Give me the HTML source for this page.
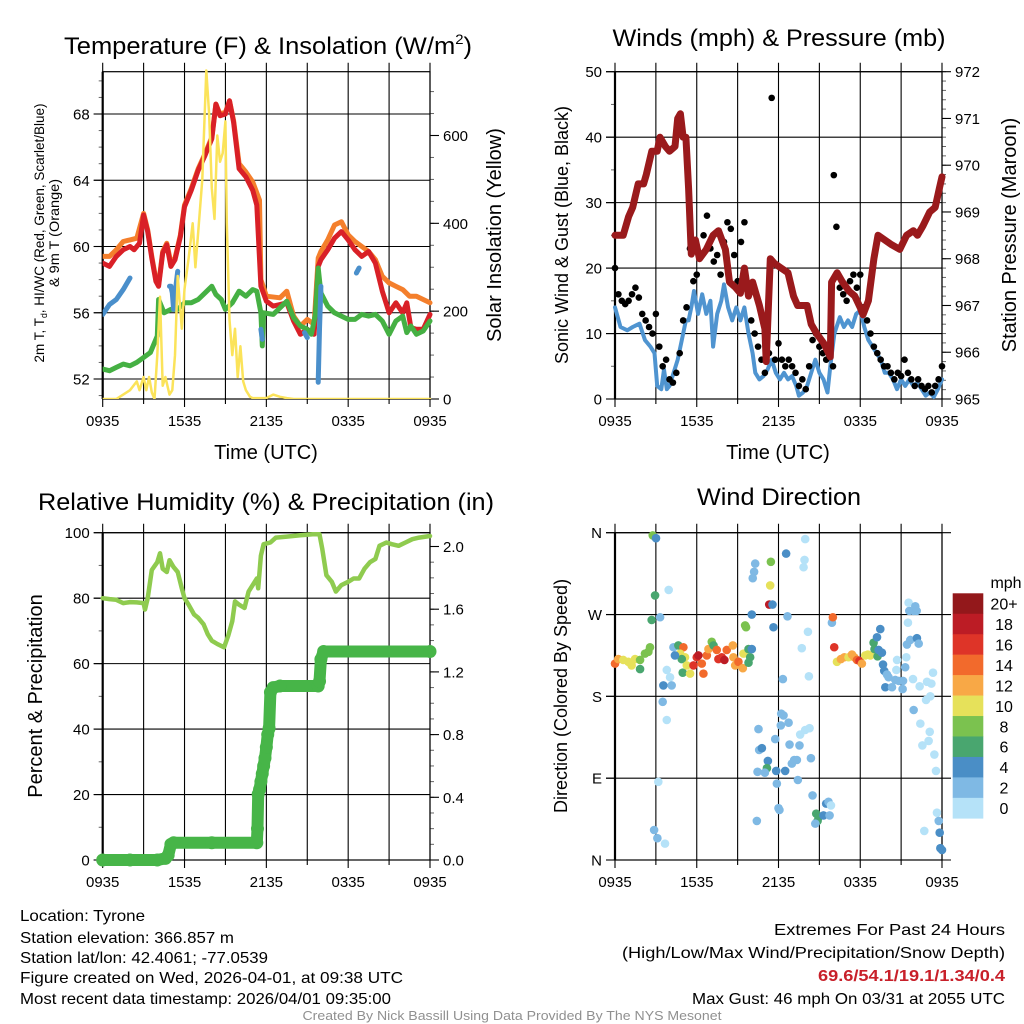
<!DOCTYPE html>
<html><head><meta charset="utf-8"><title>NYS Mesonet Tyrone station meteogram</title>
<style>
html,body{margin:0;padding:0;background:#fff;}
svg{display:block;font-family:"Liberation Sans",sans-serif;}
</style></head>
<body>
<svg id="chart" width="1024" height="1024" viewBox="0 0 1024 1024" xmlns="http://www.w3.org/2000/svg">
<rect width="1024" height="1024" fill="#fff"/>
<text x="268" y="54" font-size="24" text-anchor="middle" textLength="408" lengthAdjust="spacingAndGlyphs">Temperature (F) &amp; Insolation (W/m<tspan font-size="14" dy="-10">2</tspan><tspan dy="10">)</tspan></text>
<text x="779" y="46" font-size="24" text-anchor="middle" textLength="333" lengthAdjust="spacingAndGlyphs">Winds (mph) &amp; Pressure (mb)</text>
<text x="266" y="510" font-size="24" text-anchor="middle" textLength="456" lengthAdjust="spacingAndGlyphs">Relative Humidity (%) &amp; Precipitation (in)</text>
<text x="779" y="505" font-size="24" text-anchor="middle" textLength="164" lengthAdjust="spacingAndGlyphs">Wind Direction</text>

<text font-size="14" text-anchor="middle" transform="translate(44,233) rotate(-90)" textLength="259" lengthAdjust="spacingAndGlyphs">2m T, T<tspan font-size="9" dy="3">d</tspan><tspan dy="-3">, HI/WC (Red, Green, Scarlet/Blue)</tspan></text>
<text font-size="14" text-anchor="middle" transform="translate(59,233) rotate(-90)" textLength="108" lengthAdjust="spacingAndGlyphs">&amp; 9m T (Orange)</text>
<text font-size="20" text-anchor="middle" transform="translate(501,235) rotate(-90)">Solar Insolation (Yellow)</text>
<text font-size="18" text-anchor="middle" transform="translate(568,235) rotate(-90)">Sonic Wind &amp; Gust (Blue, Black)</text>
<text font-size="20" text-anchor="middle" transform="translate(1016,235) rotate(-90)">Station Pressure (Maroon)</text>
<text font-size="20" text-anchor="middle" transform="translate(42,696) rotate(-90)">Percent &amp; Precipitation</text>
<text font-size="18" text-anchor="middle" transform="translate(567,696) rotate(-90)">Direction (Colored By Speed)</text>
<text x="266" y="459" font-size="20" text-anchor="middle">Time (UTC)</text>
<text x="778" y="459" font-size="20" text-anchor="middle">Time (UTC)</text>

<g font-size="16">
<text x="20" y="921" textLength="125" lengthAdjust="spacingAndGlyphs">Location: Tyrone</text>
<text x="20" y="943" textLength="214" lengthAdjust="spacingAndGlyphs">Station elevation: 366.857 m</text>
<text x="20" y="963" textLength="248" lengthAdjust="spacingAndGlyphs">Station lat/lon: 42.4061; -77.0539</text>
<text x="20" y="983" textLength="383" lengthAdjust="spacingAndGlyphs">Figure created on Wed, 2026-04-01, at 09:38 UTC</text>
<text x="20" y="1004" textLength="371" lengthAdjust="spacingAndGlyphs">Most recent data timestamp: 2026/04/01 09:35:00</text>
</g>
<g font-size="16" text-anchor="end">
<text x="1005" y="935" textLength="231" lengthAdjust="spacingAndGlyphs">Extremes For Past 24 Hours</text>
<text x="1005" y="958" textLength="383" lengthAdjust="spacingAndGlyphs">(High/Low/Max Wind/Precipitation/Snow Depth)</text>
<text x="1005" y="981" fill="#c8202a" font-weight="bold" textLength="187" lengthAdjust="spacingAndGlyphs">69.6/54.1/19.1/1.34/0.4</text>
<text x="1005" y="1004" textLength="313" lengthAdjust="spacingAndGlyphs">Max Gust: 46 mph On 03/31 at 2055 UTC</text>
</g>
<text x="512" y="1020" font-size="13" fill="#909090" text-anchor="middle" textLength="419" lengthAdjust="spacingAndGlyphs">Created By Nick Bassill Using Data Provided By The NYS Mesonet</text>
</svg>
<script>
// ---------- DATA ----------
const timeTickLabels = ["0935","1535","2135","0335","0935"];
// Temperature panel (hours since 0935 UTC)
const redT = [0,.5,1,1.5,2,2.3,2.7,3,3.3,3.6,3.9,4.1,4.4,4.7,5,5.3,5.7,6,6.5,7,7.5,8,8.3,8.6,9,9.3,9.6,10,10.5,11,11.3,11.6,12,12.5,13,13.5,14,14.5,15,15.5,15.8,16,16.5,17,17.5,18,18.5,19,19.5,20,20.5,21,21.5,22,22.3,22.6,23,23.5,24];
const redV = [59,58.8,59.4,59.8,60,59.8,60.2,61.9,60.9,59.3,57.9,57.6,59.6,60.1,58.8,59.2,60.6,62.4,63.4,64.6,65.5,66.5,68.6,67.9,68,68.8,67.5,64.7,64.2,63.4,62.5,57.6,56.7,56.4,56.5,56.6,55.5,54.7,55,54.7,58.8,59.2,59.8,60.5,60.9,60.4,59.8,59.4,59.7,59,57.3,56,56.6,56,56.6,55.1,55,55,55.9];
const orangeT = [0,.5,1,1.5,2,2.5,3,3.3,3.6,3.9,4.1,4.4,4.7,5,5.3,5.7,6,6.5,7,7.5,8,8.3,8.6,9,9.3,9.6,10,10.5,11,11.5,11.6,12,13,13.5,14,14.5,15,15.5,15.8,16,16.5,17,17.5,18,18.5,19,19.5,20,20.5,21,21.5,22,22.5,23,23.5,24];
const orangeV = [59.4,59.4,59.8,60.3,60.4,60.5,62,61,59.4,58,57.7,59.7,60.2,59,59.3,60.7,62.5,63.5,64.7,65.6,66.6,68.6,68,68.1,68.8,67.6,65,64.5,63.9,62.8,58,57,56.9,57.3,55.8,55.2,55.6,55.3,59.3,59.7,60.4,61.3,61.5,60.7,60.3,60,59.7,59.2,58.2,57.8,57.6,57.4,57,57,56.8,56.6];
const greenT = [0,.5,1,1.5,2,2.5,3,3.5,4,4.1,4.5,5,5.5,6,6.5,7,7.5,8,8.3,8.7,9,9.5,10,10.5,11,11.3,11.6,11.7,11.8,12.5,13,13.5,14,14.5,15,15.3,15.6,15.8,16,16.5,17,17.5,18,18.5,19,19.5,20,20.5,21,21.5,22,22.3,22.6,23,23.5,24];
const greenV = [52.6,52.5,52.7,52.9,52.8,53,53.3,53.6,54.6,56.8,56,56.2,56.2,56.6,56.6,56.8,57.2,57.6,57.1,56.8,56.2,56.6,57.3,57,57.4,57.3,56,54,56,55.9,56.3,56.7,55.7,55.2,55,54.7,55.9,58.7,57.2,56.4,56,55.8,55.6,55.6,55.9,55.8,55.9,55.5,54.7,55.5,55.8,54.8,55.2,54.7,54.9,55.5];
const blueT = [0,.5,1,1.5,2,null,4.9,5,5.1,5.2,5.4,5.5,null,11.6,11.7,null,14.8,15,null,15.8,15.9,16,null,18.6,18.8];
const blueV = [55.9,56.5,56.8,57.4,58.1,null,57.6,57.6,57.2,56.2,57.8,58.5,null,55,54.4,null,54.8,54.5,null,51.8,55,57.6,null,58.4,58.7];
const solarT = [0,1,2,2.5,2.7,3,3.2,3.4,3.6,3.8,4,4.2,4.4,4.6,4.9,5.1,5.3,5.5,5.8,6,6.3,6.6,6.8,7,7.3,7.6,7.8,8,8.2,8.4,8.6,8.8,9,9.1,9.3,9.5,9.7,9.9,10.1,10.3,10.5,10.8,11,12,12.5,13,13.5,14,24];
const solarV = [0,0,20,40,20,50,20,50,15,0,100,233,30,50,10,20,100,280,160,250,320,400,300,380,500,748,650,480,410,600,540,560,632,400,180,100,160,50,120,40,20,5,2,2,10,5,2,0,0];
// Winds panel
const windT = [0,.4,.9,1.3,1.8,2.2,2.6,2.9,3.1,3.4,3.6,3.8,4,4.3,4.6,4.9,5.2,5.4,5.6,5.8,6.1,6.4,6.7,7,7.2,7.5,7.8,8,8.3,8.6,8.9,9.2,9.5,9.8,10.1,10.3,10.6,10.9,11.2,11.5,11.8,12.1,12.4,12.7,13,13.3,13.5,13.8,14.1,14.4,14.7,15,15.3,15.6,15.8,16.1,16.5,16.8,17.1,17.4,17.7,18,18.3,18.6,18.9,19.2,19.5,19.8,20.1,20.4,20.7,21,21.3,21.6,21.9,22.2,22.5,22.8,23.1,23.4,23.7,24];
const windV = [14,11,10.5,11,11.5,9,8,7,2,1.5,4.5,1.5,2,4,6,9,12,12,14,16.5,13,16,13,15,8,13,15,17.5,14,12,14,12,14,10,7,4,3,3.5,4.5,6,4,3,4,3,3.5,2,.5,1,2,4,6,4,3,1,5,10,12.5,11,12,11,13,13.5,11,9,8,7,6,4,4,3,1.5,3,2,3,2,2.5,1.5,.5,1,.3,1.5,3];
const gustT = [0,.25,.5,.75,1,1.25,1.5,1.75,2,2.25,2.5,2.75,3,3.25,3.5,3.75,4,4.25,4.5,4.75,5,5.25,5.5,5.75,6,6.25,6.5,6.75,7,7.25,7.5,7.75,8,8.25,8.5,8.75,9,9.25,9.5,9.75,10,10.25,10.5,10.75,11,11.3,11.5,11.75,12,12.25,12.5,12.75,13,13.25,13.5,13.75,14,14.25,14.5,14.75,15,15.25,15.5,16,16.06,16.25,16.5,16.75,17,17.25,17.5,17.75,18,18.25,18.5,18.75,19,19.25,19.5,19.75,20,20.25,20.5,20.75,21,21.25,21.5,21.75,22,22.25,22.5,22.75,23,23.25,23.5,23.75,24];
const gustV = [20,16,15,14.5,15,16,17,15.5,13,12,11,10,13,8,5,6,3,2.5,4,7,12,14,23,18,19,22,25,28,23,21,22,19,24,27,26,22,18,24,27,17,12,10,8,6,4,7,46,6,8.5,6,5,6,5,4,2,3,1.5,5,9,10,8,7,6,5,34.2,26.3,17,16,15,18,19,17,19,14,12,10,8,7,6,5,5,4,3,4,3.5,6,4,3,2,3,2,1.5,2,1,2,3,5];
const presT = [0,.6,1,1.3,1.7,2.1,2.3,2.7,3.1,3.3,3.7,4,4.4,4.6,4.8,5,5.2,5.4,5.6,5.9,6.2,6.7,7.2,7.6,8.1,8.4,8.8,9.2,9.5,9.8,10.1,10.6,11,11.1,11.4,11.7,12.2,12.7,13.1,13.4,14.1,14.4,14.8,15.3,15.8,15.9,16.3,16.7,17.2,17.6,18,18.2,18.6,19,19.3,19.8,20.3,20.9,21.4,21.9,22.2,22.6,23.1,23.5,23.8,24];
const presV = [968.5,968.5,968.9,969.1,969.6,969.6,969.8,970.3,970.3,970.6,970.4,970.3,970.4,971,971.1,970.6,970.6,969.5,968.1,968.4,968,968.2,968.5,968.6,968.2,967.5,967.4,967.26,967.8,967.2,967.5,967,966.5,965.8,968,967.9,967.8,967.7,967.2,967,967,966.6,966.4,966.2,965.9,967.5,967.7,967.5,967.3,967.2,966.95,966.8,967.1,968,968.5,968.4,968.3,968.2,968.5,968.6,968.5,968.7,969,969.1,969.5,969.75];
// Humidity panel
const rhT = [0,.5,1,1.5,2,2.5,3,3.1,3.3,3.6,4,4.2,4.4,4.7,4.9,5.2,5.5,5.8,6,6.3,6.7,7,7.4,7.7,8,8.4,8.9,9.2,9.5,9.7,10,10.4,10.7,11,11.3,11.4,11.6,11.8,12.3,12.7,13.5,14.5,15.4,15.9,16.1,16.4,16.8,17.1,17.5,18,18.4,18.8,19.2,19.6,20,20.3,20.8,21.2,21.7,22.2,22.7,23.2,24];
const rhV = [80,79.7,79.5,78.5,78.8,78.7,78.5,76.5,80,88.6,91,93.7,89,88,91.6,89.5,88,83,80,78,75,74,72,69,67,66,65,68.5,73,79,78,77,82,84,86,83,93,96.5,97,98.5,98.8,99.2,99.5,99.5,95,87,85,82,84,85,86,86,89,91,92,96,97,96.5,96,97,98,98.5,99];
const precipT = [0,2,4,4.6,4.8,5,5.2,8,11.3,11.35,11.4,11.5,11.6,11.7,11.8,11.9,12,12.1,12.2,12.3,12.5,13,15.8,15.9,16,16.2,24];
const precipV = [0,0,0,.01,.03,.1,.11,.11,.11,.2,.42,.45,.5,.55,.6,.65,.72,.8,.84,1.07,1.1,1.11,1.11,1.14,1.28,1.33,1.33];
// Wind direction panel: time (h), direction (deg), speed (mph)
const dirT = [0,.24,.61,.98,1.22,1.47,1.84,1.84,2.2,2.45,2.57,2.69,2.94,2.77,3.01,3.31,3.94,3.8,4.04,3.55,4.16,3.5,3.8,3.18,2.87,3.11,3.67,
4.29,4.65,5.02,4.78,5.14,4.9,4.4,4.97,5.27,5.51,5.76,6,6.12,6.37,6.49,6.74,6.86,7.1,7.23,7.47,7.59,7.84,8.03,8.2,8.65,8.69,8.82,9.06,9.38,9.43,9.8,9.92,9.8,10.04,9.55,9.62,10.04,
10.29,10.21,10.11,11.44,11.39,11.32,11.56,11.63,12.56,12.66,13.96,13.91,13.84,14.16,13.71,14.23,12.32,
10.53,10.58,10.78,11.22,11.15,10.46,11,11.83,11.88,12.2,12.37,12.17,12.74,11.76,12.81,13.54,12.98,13.15,13.35,12.49,14.38,13.59,13.96,14.28,13.42,10.41,12,12.07,14.5,14.77,14.94,14.87,14.7,15.3,15.5,15.67,15.85,15.75,
15.92,15.99,16.09,16.29,16.58,16.83,17.14,17.39,17.56,17.76,17.95,18.12,18.37,18.56,18.74,18.98,19.05,19.23,19.47,19.27,19.59,19.35,19.67,19.76,19.96,19.84,20.08,20.33,20.57,20.82,21.11,21.14,20.7,20.65,21.3,21.38,21.43,21.67,22.16,22.29,21.5,21.6,21.9,22.14,21.55,22.04,21.87,22.36,22.9,23.34,23.22,22.83,23.14,21.92,22.41,23.1,22.56,23.02,23.44,23.56,23.63,23.76,23.83,23.88,24,22.7];
const dirV = [216,221,220,218,214,221,220,210,227,229,234,264,291,357,354,267,297,209,201,192,192,174,154,86,33,24,18,
234,236,234,227,223,221,225,206,214,205,214,223,225,216,205,225,232,240,236,231,221,223,220,231,236,223,214,218,211,227,232,223,217,232,258,256,270,
326,317,310,328,302,281,281,256,337,268,353,330,322,251,233,202,199,
144,121,123,109,101,97,96,98,84,161,159,148,151,133,127,126,106,110,110,98,112,138,143,145,88,43,57,55,71,51,47,43,40,49,62,64,60,49,
261,267,234,218,221,223,223,226,223,220,219,216,225,226,225,239,232,245,254,224,228,231,215,208,204,190,201,190,198,197,188,197,220,209,212,223,237,242,244,238,261,274,274,274,283,279,199,191,196,206,194,176,180,165,150,141,126,131,116,98,52,43,30,13,11,32];
const dirS = [14,12,10,10,11,10,8,7,8,8,8,6,6,8,4,2,0,1,1,4,3,2,0,0,2,3,0,
3,6,15,10,10,7,4,6,10,10,16,17,18,14,14,14,13,8,7,15,16,17,19,14,12,13,12,14,12,10,6,6,6,4,8,8,4,
2,2,2,8,10,18,4,4,4,2,0,0,0,0,0,0,2,
2,3,4,4,6,2,2,4,2,2,2,3,2,2,3,3,2,2,2,4,3,0,0,0,3,2,2,2,3,6,6,6,2,4,4,2,1,3,
3,15,16,10,12,12,11,13,13,14,16,12,10,10,10,6,6,4,4,6,4,5,4,4,3,4,2,3,3,2,2,2,0,0,3,0,2,3,4,3,0,2,2,2,0,2,0,0,0,0,0,0,0,3,0,0,0,0,0,0,0,3,4,4,4,0];
const speedColors = ["#b5e2f8","#7fb9e4","#4a8ec6","#49a66f","#7bc24f","#e6e15a","#f8a846","#f26a2c","#de3428","#bc1c25","#93181b"];
const speedLabels = ["0","2","4","6","8","10","12","14","16","18","20+"];

// ---------- RENDER ----------
const NS = "http://www.w3.org/2000/svg";
const svg = document.getElementById("chart");
function mk(tag, attrs, parent){const e=document.createElementNS(NS,tag);for(const k in attrs)e.setAttribute(k,attrs[k]);(parent||svg).appendChild(e);return e;}
function lin(d0,d1,r0,r1){return v=>r0+(v-d0)/(d1-d0)*(r1-r0);}
function pathFrom(ts,vs,xs,ys){let d="",pen=false;for(let i=0;i<ts.length;i++){if(ts[i]===null||vs[i]===null){pen=false;continue;}d+=(pen?"L":"M")+xs(ts[i]).toFixed(1)+","+ys(vs[i]).toFixed(1);pen=true;}return d;}

function frame(name,x0,x1,y0,y1,leftTicks,leftMinor,ly,rightTicks,rightMinor,ry,gridVals,leftLabels,rightLabels){
  const g=mk("g",{});
  
  
  const xs=lin(0,24,x0,x1);
  for(let h=0;h<=24;h+=3){
    const l=mk("line",{x1:xs(h),x2:xs(h),y1:y0-9,y2:y1+(h%6===0?8:5),stroke:"#000","stroke-width":1.1},g);
    
    
  }
  gridVals.forEach(v=>{
    const l=mk("line",{x1:x0-9,x2:rightTicks?x1:x1+9,y1:ly(v),y2:ly(v),stroke:"#000","stroke-width":1.1},g);
    
    
  });
  leftMinor.forEach(v=>{const l=mk("line",{x1:x0-4,x2:x0,y1:ly(v),y2:ly(v),stroke:"#666","stroke-width":1},g);});
  leftTicks.forEach((v,i)=>{
    const l=mk("line",{x1:x0-9,x2:x0,y1:ly(v),y2:ly(v),stroke:"#000","stroke-width":1.1},g);
    
    
    const t=mk("text",{x:x0-13,y:ly(v)+5.5,"font-size":15,"text-anchor":"end"},g);
    t.textContent=leftLabels[i];
    
    
  });
  if(rightTicks){
    rightMinor.forEach(v=>{const l=mk("line",{x1:x1,x2:x1+4,y1:ry(v),y2:ry(v),stroke:"#666","stroke-width":1},g);});
    rightTicks.forEach((v,i)=>{
      const l=mk("line",{x1:x1,x2:x1+9,y1:ry(v),y2:ry(v),stroke:"#000","stroke-width":1.1},g);
      
      
      const t=mk("text",{x:x1+13,y:ry(v)+5.5,"font-size":15},g);
      t.textContent=rightLabels[i];
      
      
    });
  }
  timeTickLabels.forEach((s,i)=>{
    const t=mk("text",{x:xs(i*6),y:y1+27,"font-size":15,"text-anchor":"middle"},g);
    t.textContent=s;
    
    
  });
  const b=mk("rect",{x:x0,y:y0,width:x1-x0,height:y1-y0,fill:"none",stroke:"#000","stroke-width":1.2},g);
  
  
  mk("line",{x1:x0,x2:x0,y1:y0,y2:y1,stroke:"#000","stroke-width":2.2},g);
  return xs;
}
function range(a,b,s){const r=[];for(let v=a;v<=b+1e-9;v+=s)r.push(+v.toFixed(4));return r;}

// Panel 1: temperature
(function(){
  const x0=102.7,x1=430,y0=71.7,y1=399;
  const ty=lin(52,68,379,114), sy=lin(0,600,399,135.5);
  const t4=[52,56,60,64,68];
  const xs=frame("temperature",x0,x1,y0,y1,t4,range(51,70,1),ty,[0,200,400,600],range(0,700,50),sy,t4,t4.map(String),["0","200","400","600"]);
  const cp=mk("clipPath",{id:"c1"});mk("rect",{x:x0,y:y0-4,width:x1-x0+4,height:y1-y0+4},cp);
  const g=mk("g",{"clip-path":"url(#c1)",fill:"none","stroke-linejoin":"round","stroke-linecap":"round"});
  
  
  let p=mk("path",{d:pathFrom(orangeT,orangeV,xs,ty),stroke:"#f47f2c","stroke-width":5},g);
  
  
  p=mk("path",{d:pathFrom(redT,redV,xs,ty),stroke:"#d92027","stroke-width":5},g);
  
  
  p=mk("path",{d:pathFrom(greenT,greenV,xs,ty),stroke:"#45b043","stroke-width":5},g);
  
  
  p=mk("path",{d:pathFrom(blueT,blueV,xs,ty),stroke:"#4a8fcb","stroke-width":5},g);
  
  
  p=mk("path",{d:pathFrom(solarT,solarV,xs,sy),stroke:"#fbe35a","stroke-width":2.5},g);
  
  
})();

// Panel 2: winds & pressure
(function(){
  const x0=615,x1=942,y0=71.7,y1=399;
  const wy=lin(0,50,399,71.7), py=lin(965,972,399,71.7);
  const w=[0,10,20,30,40,50];
  const xs=frame("winds",x0,x1,y0,y1,w,range(0,50,5),wy,[965,966,967,968,969,970,971,972],range(965,972,0.2),py,w,w.map(String),["965","966","967","968","969","970","971","972"]);
  const g=mk("g",{fill:"none","stroke-linejoin":"round","stroke-linecap":"round"});
  
  
  let p=mk("path",{d:pathFrom(windT,windV,xs,wy),stroke:"#4f94d0","stroke-width":4},g);
  
  
  const gg=mk("g",{fill:"#000"},g);
  
  
  gustT.forEach((t,i)=>{
    const c=mk("circle",{cx:xs(t),cy:wy(gustV[i]),r:3.3},gg);
    
    
  });
  p=mk("path",{d:pathFrom(presT,presV,xs,py),stroke:"#9a1a1c","stroke-width":7},g);
  
  
})();

// Panel 3: humidity & precip
(function(){
  const x0=102.7,x1=430,y0=532.7,y1=860;
  const hy=lin(0,100,860,532.7), qy=lin(0,2.0,860,546.5);
  const h=[0,20,40,60,80,100];
  const xs=frame("humidity",x0,x1,y0,y1,h,range(0,100,10),hy,[0,.4,.8,1.2,1.6,2.0],range(0,2.05,0.1),qy,h,h.map(String),["0.0","0.4","0.8","1.2","1.6","2.0"]);
  const g=mk("g",{fill:"none","stroke-linejoin":"round","stroke-linecap":"round"});
  
  
  let p=mk("path",{d:pathFrom(rhT,rhV,xs,hy),stroke:"#8fcb4f","stroke-width":4.5},g);
  
  
  p=mk("path",{d:pathFrom(precipT,precipV,xs,qy),stroke:"#47b548","stroke-width":12},g);
  
  
  precipT.forEach((t,i)=>{
    const c=mk("circle",{cx:xs(t),cy:qy(precipV[i]),r:6.5,fill:"#47b548"},g);
    
    
  });
})();

// Panel 4: wind direction
(function(){
  const x0=615,x1=942,y0=532.7,y1=860;
  const dy=lin(0,360,860,532.7);
  const d=[0,90,180,270,360];
  const xs=frame("direction",x0,x1,y0,y1,d,[],dy,null,null,null,d,["N","E","S","W","N"],null);
  const g=mk("g",{});
  
  
  dirT.forEach((t,i)=>{
    const ci=Math.min(10,Math.floor(dirS[i]/2));
    const c=mk("circle",{cx:xs(t),cy:dy(dirV[i]),r:4.3,fill:speedColors[ci]},g);
    
    
  });
  const lg=mk("g",{});
  
  
  const lt=mk("text",{x:1006,y:588,"font-size":16,"text-anchor":"middle"},lg);
  lt.textContent="mph";
  
  
  const bh=(818.3-593.3)/speedColors.length;
  speedColors.forEach((col,i)=>{
    const k=speedColors.length-1-i;
    const r=mk("rect",{x:952.7,y:593.3+i*bh,width:30.6,height:bh+0.3,fill:speedColors[k]},lg);
    
    
    const t=mk("text",{x:1004,y:593.3+i*bh+bh/2+6,"font-size":16,"text-anchor":"middle"},lg);
    t.textContent=speedLabels[k];
    
    
  });
})();
</script>
</body></html>
